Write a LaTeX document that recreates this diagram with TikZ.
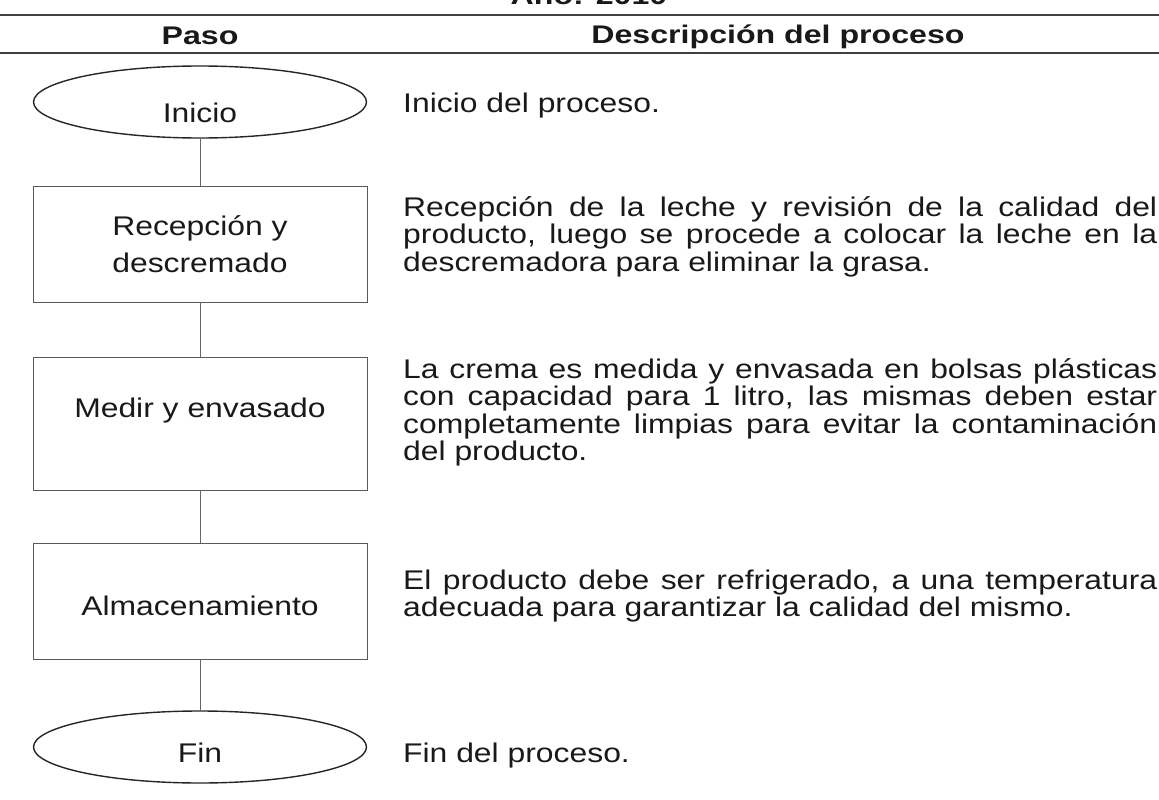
\documentclass[tikz,border=0pt]{standalone}
\usepackage{fontspec}
\setmainfont{Liberation Sans}
\usepackage{graphicx}
\usetikzlibrary{shapes.geometric}
\newcommand{\sx}[1]{\scalebox{1.18}[1]{#1}}
\newcommand{\hx}[1]{\scalebox{1.26}[1]{#1}}
\newcommand{\jl}[1]{\hbox{\makebox[639pt][s]{#1}}}
\newcommand{\plainline}[1]{\hbox{#1}}
\newcommand{\desclines}[1]{\sx{\vtop{\baselineskip=27.5pt\lineskiplimit=-100pt\lineskip=0pt #1}}}
\begin{document}
\begin{tikzpicture}[x=1pt,y=-1pt,
  startend/.style={ellipse, draw=black!85, line width=1.4pt, minimum width=333pt, inner sep=0pt,
    font=\fontsize{27}{27}\selectfont, text=black!90},
  stepbox/.style={rectangle, draw=black!65, line width=0.9pt, minimum width=334pt, inner sep=0pt,
    font=\fontsize{27}{36.5}\selectfont, align=center, text=black!90},
  desc/.style={anchor=base west, inner sep=0pt, font=\fontsize{27}{27.5}\selectfont, text=black!90},
  head/.style={font=\bfseries\fontsize{25.5}{25.5}\selectfont, inner sep=0pt, anchor=base, text=black!90},
  conn/.style={draw=black!60, line width=0.9pt},
  rule/.style={draw=black!75, line width=1.3pt}]
\useasboundingbox (0,0) rectangle (1159,800);
\clip (0,0) rectangle (1159,800);

% header
\node[head] (anio) at (589,5) {\hx{Año: 2010}};
\coordinate (r1l) at (0,15);
\coordinate (r1r) at (1159,15);
\coordinate (r2l) at (0,53);
\coordinate (r2r) at (1159,53);
\draw[rule] (r1l) -- (r1r);
\draw[rule] (r2l) -- (r2r);
\node[head] (hpaso) at (200,45) {\hx{Paso}};
\node[head] (hdesc) at (778,44) {\hx{Descripción del proceso}};

% flow column
\node[startend, minimum height=72pt, text height=40pt, text depth=0pt] (ini) at (200,102) {\sx{Inicio}};
\node[stepbox, minimum height=116pt] (b1) at (200,244) {\sx{Recepción y}\\\sx{descremado}};
\node[stepbox, minimum height=133pt, text height=20pt, text depth=33pt] (b2) at (200,423.5) {\sx{Medir y envasado}};
\node[stepbox, minimum height=116pt, text height=28pt, text depth=0pt] (b3) at (200,601) {\sx{Almacenamiento}};
\node[startend, minimum height=72pt, text height=30pt, text depth=0pt] (fin) at (200,747) {\sx{Fin}};

\draw[conn] (ini.south) -- (b1.north);
\draw[conn] (b1.south) -- (b2.north);
\draw[conn] (b2.south) -- (b3.north);
\draw[conn] (b3.south) -- (fin.north);

% descriptions
\node[desc] (d0) at (403,112) {\sx{Inicio del proceso.}};
\node[desc] (d1) at (403,216) {\desclines{%
  \jl{Recepción de la leche y revisión de la calidad del}%
  \jl{producto, luego se procede a colocar la leche en la}%
  \plainline{descremadora para eliminar la grasa.}}};
\node[desc] (d2) at (403,378) {\desclines{%
  \jl{La crema es medida y envasada en bolsas plásticas}%
  \jl{con capacidad para 1 litro, las mismas deben estar}%
  \jl{completamente limpias para evitar la contaminación}%
  \plainline{del producto.}}};
\node[desc] (d3) at (403,589) {\desclines{%
  \jl{El producto debe ser refrigerado, a una temperatura}%
  \plainline{adecuada para garantizar la calidad del mismo.}}};
\node[desc] (d4) at (403,762) {\sx{Fin del proceso.}};
\end{tikzpicture}
\end{document}
